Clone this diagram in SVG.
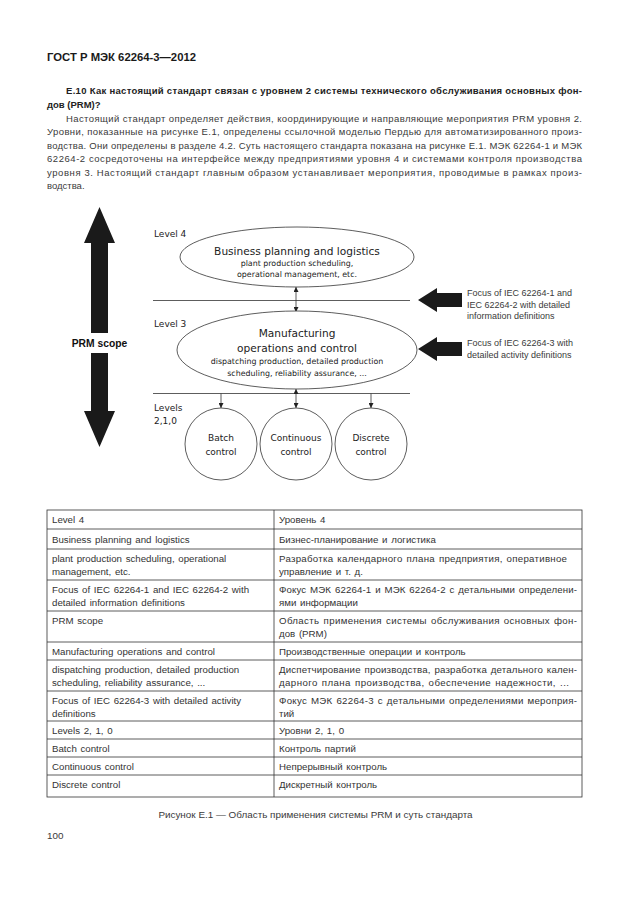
<svg xmlns="http://www.w3.org/2000/svg" width="630" height="913" viewBox="0 0 630 913">
<style>
.bg{fill:#ffffff}
.hdr{font-family:"Liberation Sans",Arial,sans-serif;font-weight:bold;font-size:11px;fill:#1a1a1a}
.h2{font-family:"Liberation Sans",Arial,sans-serif;font-weight:bold;font-size:9.5px;fill:#222}
.bd{font-family:"Liberation Sans",Arial,sans-serif;font-size:9.5px;fill:#3a3a3a}
.cap{font-family:"Liberation Sans",Arial,sans-serif;font-size:9.9px;fill:#3a3a3a}
.dg{font-family:"DejaVu Sans",Verdana,sans-serif;fill:#222}
.lv{font-size:9px}
.ttl{font-size:10.6px}
.sm{font-size:7.9px}
.cc{font-size:9px}
.fc{font-family:"Liberation Sans",Arial,sans-serif;font-size:9px;fill:#3a3a3a}
.prm{font-family:"Liberation Sans",Arial,sans-serif;font-weight:bold;font-size:10.3px;fill:#111}
.shape{fill:#ffffff;stroke:#333;stroke-width:0.8}
.ln{stroke:#333;stroke-width:0.8;fill:none}
.big{fill:#1a1a1a}
.tb{font-family:"Liberation Sans",Arial,sans-serif;font-size:9.7px;fill:#333;word-spacing:1px}
.grid{stroke:#333;stroke-width:0.8;fill:none}
</style>
<defs>
<marker id="ah" viewBox="0 0 8 8" refX="8" refY="4" markerWidth="5" markerHeight="5" orient="auto-start-reverse" markerUnits="userSpaceOnUse">
<path d="M0,0 L8,4 L0,8 z" fill="#222"/>
</marker>
</defs>
<rect class="bg" x="0" y="0" width="630" height="913"/>

<g id="page-text">
<text class="hdr" x="47" y="61" textLength="149" lengthAdjust="spacingAndGlyphs">ГОСТ Р МЭК 62264-3—2012</text>
<text class="h2" x="66" y="93.5" textLength="516" lengthAdjust="spacing">E.10 Как настоящий стандарт связан с уровнем 2 системы технического обслуживания основных фон-</text>
<text class="h2" x="47" y="107.5">дов (PRM)?</text>
<text class="bd" x="66" y="121.5" textLength="516" lengthAdjust="spacing">Настоящий стандарт определяет действия, координирующие и направляющие мероприятия PRM уровня 2.</text>
<text class="bd" x="47" y="135" textLength="535" lengthAdjust="spacing">Уровни, показанные на рисунке E.1, определены ссылочной моделью Пердью для автоматизированного произ-</text>
<text class="bd" x="47" y="148.5" textLength="535" lengthAdjust="spacing">водства. Они определены в разделе 4.2. Суть настоящего стандарта показана на рисунке E.1. МЭК 62264-1 и МЭК</text>
<text class="bd" x="47" y="162" textLength="535" lengthAdjust="spacing">62264-2 сосредоточены на интерфейсе между предприятиями уровня 4 и системами контроля производства</text>
<text class="bd" x="47" y="175.5" textLength="535" lengthAdjust="spacing">уровня 3. Настоящий стандарт главным образом устанавливает мероприятия, проводимые в рамках произ-</text>
<text class="bd" x="47" y="189">водства.</text>
</g>

<g id="prm-scope">
<polygon class="big" points="99.5,207 115,243 108,243 108,333 91,333 91,243 84,243"/>
<polygon class="big" points="91,353 108,353 108,411 115,411 99.5,447 84,411 91,411"/>
<text class="prm" x="99.5" y="346.5" text-anchor="middle">PRM scope</text>
</g>

<g id="level-labels" class="dg lv">
<text x="154" y="237">Level 4</text>
<text x="154" y="326.5">Level 3</text>
<text x="154" y="410.5">Levels</text>
<text x="154" y="423.5">2,1,0</text>
</g>

<g id="connectors">
<line class="ln" x1="153" y1="300.5" x2="410" y2="300.5"/>
<line class="ln" x1="153" y1="393.5" x2="410" y2="393.5"/>
<line class="ln" x1="296" y1="287" x2="296" y2="312" marker-start="url(#ah)" marker-end="url(#ah)"/>
<line class="ln" x1="296" y1="389" x2="296" y2="408" marker-start="url(#ah)" marker-end="url(#ah)"/>
<line class="ln" x1="221" y1="393.5" x2="221" y2="408" marker-end="url(#ah)"/>
<line class="ln" x1="371" y1="393.5" x2="371" y2="408" marker-end="url(#ah)"/>
</g>

<g id="level4-node">
<ellipse class="shape" cx="297" cy="257" rx="117" ry="30"/>
<text class="dg ttl" x="297" y="254.5" text-anchor="middle">Business planning and logistics</text>
<text class="dg sm" x="297" y="266" text-anchor="middle">plant production scheduling,</text>
<text class="dg sm" x="297" y="277" text-anchor="middle">operational management, etc.</text>
</g>

<g id="level3-node">
<ellipse class="shape" cx="297" cy="350" rx="120" ry="39"/>
<text class="dg ttl" x="297" y="337" text-anchor="middle">Manufacturing</text>
<text class="dg ttl" x="297" y="351.5" text-anchor="middle">operations and control</text>
<text class="dg sm" x="297" y="364" text-anchor="middle">dispatching production, detailed production</text>
<text class="dg sm" x="297" y="375.5" text-anchor="middle">scheduling, reliability assurance, ...</text>
</g>

<g id="batch-node">
<circle class="shape" cx="221" cy="444" r="36"/>
<text class="dg cc" x="221" y="441" text-anchor="middle">Batch</text>
<text class="dg cc" x="221" y="455" text-anchor="middle">control</text>
</g>
<g id="continuous-node">
<circle class="shape" cx="296" cy="444" r="36"/>
<text class="dg cc" x="296" y="441" text-anchor="middle">Continuous</text>
<text class="dg cc" x="296" y="455" text-anchor="middle">control</text>
</g>
<g id="discrete-node">
<circle class="shape" cx="371" cy="444" r="36"/>
<text class="dg cc" x="371" y="441" text-anchor="middle">Discrete</text>
<text class="dg cc" x="371" y="455" text-anchor="middle">control</text>
</g>

<g id="focus-1">
<polygon class="big" points="418,300 437,288 437,293 462,293 462,307 437,307 437,312"/>
<text class="fc" x="467" y="296">Focus of IEC 62264-1 and</text>
<text class="fc" x="467" y="307.5">IEC 62264-2 with detailed</text>
<text class="fc" x="467" y="319">information definitions</text>
</g>
<g id="focus-3">
<polygon class="big" points="418,349 437,337 437,342 462,342 462,356 437,356 437,361"/>
<text class="fc" x="467" y="346">Focus of IEC 62264-3 with</text>
<text class="fc" x="467" y="357.5">detailed activity definitions</text>
</g>

<g id="legend-table">
<rect class="grid" x="47" y="510" width="535" height="287"/>
<path class="grid" d="M274,510 V797 M47,529 H582 M47,549 H582 M47,580 H582 M47,611 H582 M47,642 H582 M47,660 H582 M47,691 H582 M47,721 H582 M47,739 H582 M47,757 H582 M47,775 H582"/>
<g class="tb">
<text x="52" y="523">Level 4</text>
<text x="279" y="523">Уровень 4</text>
<text x="52" y="542.5">Business planning and logistics</text>
<text x="279" y="542.5">Бизнес-планирование и логистика</text>
<text x="52" y="562">plant production scheduling, operational</text>
<text x="52" y="574.5">management, etc.</text>
<text x="279" y="562" textLength="288" lengthAdjust="spacing">Разработка календарного плана предприятия, оперативное</text>
<text x="279" y="574.5">управление и т. д.</text>
<text x="52" y="593">Focus of IEC 62264-1 and IEC 62264-2 with</text>
<text x="52" y="605.5">detailed information definitions</text>
<text x="279" y="593" textLength="298" lengthAdjust="spacing">Фокус МЭК 62264-1 и МЭК 62264-2 с детальными определени-</text>
<text x="279" y="605.5">ями информации</text>
<text x="52" y="624">PRM scope</text>
<text x="279" y="624" textLength="298" lengthAdjust="spacing">Область применения системы обслуживания основных фон-</text>
<text x="279" y="636.5">дов (PRM)</text>
<text x="52" y="655">Manufacturing operations and control</text>
<text x="279" y="655">Производственные операции и контроль</text>
<text x="52" y="673">dispatching production, detailed production</text>
<text x="52" y="685.5">scheduling, reliability assurance, ...</text>
<text x="279" y="673" textLength="298" lengthAdjust="spacing">Диспетчирование производства, разработка детального кален-</text>
<text x="279" y="685.5" textLength="290" lengthAdjust="spacing">дарного плана производства, обеспечение надежности, ...</text>
<text x="52" y="704">Focus of IEC 62264-3 with detailed activity</text>
<text x="52" y="716.5">definitions</text>
<text x="279" y="704" textLength="298" lengthAdjust="spacing">Фокус МЭК 62264-3 с детальными определениями мероприя-</text>
<text x="279" y="716.5">тий</text>
<text x="52" y="734">Levels 2, 1, 0</text>
<text x="279" y="734">Уровни 2, 1, 0</text>
<text x="52" y="752">Batch control</text>
<text x="279" y="752">Контроль партий</text>
<text x="52" y="770">Continuous control</text>
<text x="279" y="770">Непрерывный контроль</text>
<text x="52" y="788">Discrete control</text>
<text x="279" y="788">Дискретный контроль</text>
</g>
</g>

<g id="caption">
<text class="cap" x="315.5" y="817.5" text-anchor="middle">Рисунок E.1 — Область применения системы PRM и суть стандарта</text>
<text class="cap" x="47" y="838.5">100</text>
</g>
</svg>
